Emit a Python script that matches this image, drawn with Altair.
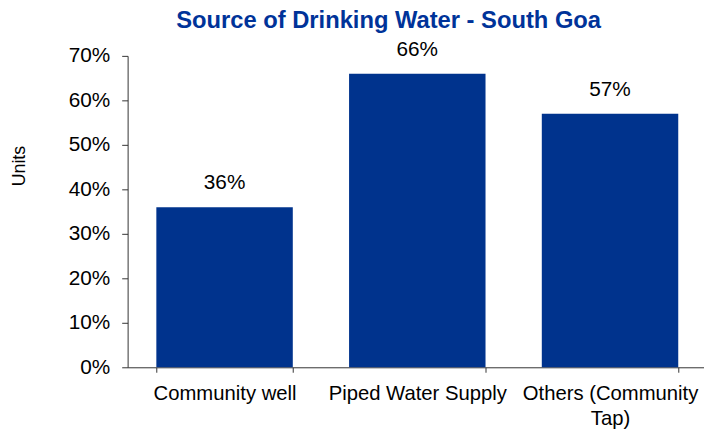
import altair as alt
import pandas as pd

categories = ["Community well", "Piped Water Supply", "Others (Community Tap)"]
values = [0.36, 0.66, 0.57]
labels = ["36%", "66%", "57%"]

df = pd.DataFrame({"cat": categories, "val": values, "lab": labels})

FONT = "Liberation Sans"
BAR = "#00338D"

x = alt.X(
    "cat:N",
    sort=categories,
    scale=alt.Scale(paddingInner=0.292, paddingOuter=0.149),
    axis=alt.Axis(
        title=None,
        labelAngle=0,
        labelFontSize=20.5,
        labelFont=FONT,
        labelColor="#000000",
        labelPadding=12,
        labelLineHeight=25,
        labelLimit=0,
        tickBand="extent",
        tickSize=5,
        tickColor="#333333",
        domainColor="#333333",
        labelExpr="datum.value == 'Others (Community Tap)' ? ['Others (Community', 'Tap)'] : datum.value",
    ),
)

y = alt.Y(
    "val:Q",
    scale=alt.Scale(domain=[0, 0.7]),
    axis=alt.Axis(
        title="Units",
        format=".0%",
        values=[0, 0.1, 0.2, 0.3, 0.4, 0.5, 0.6, 0.7],
        grid=False,
        labelFontSize=21,
        labelFont=FONT,
        labelColor="#000000",
        labelPadding=12,
        tickSize=6,
        tickColor="#333333",
        domainColor="#333333",
        titleFont=FONT,
        titleFontSize=18,
        titleFontWeight="normal",
        titleColor="#000000",
        titleAngle=-90,
        titleAlign="center",
        titleBaseline="middle",
        titleX=-109,
        titleY=111,
    ),
)

bars = alt.Chart(df).mark_bar(color=BAR).encode(x=x, y=y)
text = alt.Chart(df).mark_text(
    dy=-14, baseline="bottom", fontSize=21, font=FONT, color="#000000"
).encode(x=alt.X("cat:N", sort=categories), y="val:Q", text="lab:N")

chart = (
    alt.layer(bars, text)
    .properties(
        width=586,
        height=315,
        title=alt.TitleParams(
            "Source of Drinking Water - South Goa",
            font=FONT,
            fontSize=24,
            fontWeight="bold",
            color="#003399",
            anchor="middle",
            dx=-29,
            offset=6,
        ),
        autosize=alt.AutoSizeParams(type="none"),
        padding={"left": 121, "top": 46, "right": -3, "bottom": 60},
    )
    .configure_view(stroke=None)
)

chart.save("out.html", embed_options={"renderer": "svg", "actions": False})
